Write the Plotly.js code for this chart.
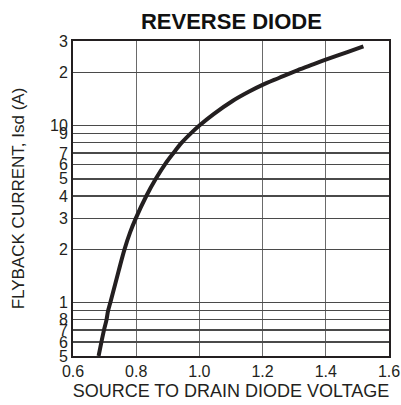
<!DOCTYPE html>
<html>
<head>
<meta charset="utf-8">
<script src="https://cdn.plot.ly/plotly-3.0.1.min.js"></script>
<style>html,body{margin:0;padding:0;background:#fff;}#chart{width:401px;height:405px;}</style>
</head>
<body>
<div id="chart"></div>
<script>
// Curve (V, A)
const voltage = [0.681, 0.690, 0.698, 0.706, 0.711, 0.718, 0.744, 0.763, 0.781, 0.799, 0.832, 0.862, 0.890, 0.918, 0.944, 0.972, 1.000, 1.045, 1.106, 1.156, 1.198, 1.253, 1.310, 1.362, 1.402, 1.466, 1.519];
const current = [0.5, 0.6, 0.7, 0.8, 0.9, 1.0, 1.5, 2.0, 2.5, 3.0, 4.0, 5.0, 6.0, 7.0, 8.0, 9.0, 10.0, 11.6, 13.8, 15.5, 16.9, 18.6, 20.5, 22.2, 23.6, 25.9, 28.0];

const yTickVals = [0.5, 0.6, 0.7, 0.8, 0.9, 1, 2, 3, 4, 5, 6, 7, 8, 9, 10, 20, 30];
const yTickText = ["5", "6", "7", "8", "", "1", "2", "3", "4", "5", "6", "7", "", "9", "10", "2", "3"];
const xTickVals = [0.6, 0.8, 1.0, 1.2, 1.4, 1.6];
const xTickText = ["0.6", "0.8", "1.0", "1.2", "1.4", "1.6"];

const font = "Liberation Sans, Arial, Helvetica, sans-serif";

const trace = {
  x: voltage, y: current, type: "scatter", mode: "lines",
  line: {color: "#231f20", width: 4, shape: "spline", smoothing: 1},
  hoverinfo: "skip", showlegend: false
};

const layout = {
  width: 401, height: 405,
  margin: {l: 73, r: 12, t: 41, b: 49},
  paper_bgcolor: "#fff", plot_bgcolor: "#fff",
  font: {family: font, color: "#231f20", size: 15},
  title: {text: "<b>REVERSE DIODE</b>", font: {family: font, size: 22, color: "#111"}, x: 0.577, xanchor: "center", y: 0.948, yanchor: "middle"},
  xaxis: {
    range: [0.6, 1.6], tickmode: "array", tickvals: xTickVals, ticktext: xTickText,
    showgrid: true, gridcolor: "#6a6a6a", gridwidth: 1.3,
    showline: true, linecolor: "#231f20", linewidth: 2, mirror: true,
    ticks: "", zeroline: false,
    tickfont: {size: 16, family: font, color: "#231f20"},
    title: {text: "SOURCE TO DRAIN DIODE VOLTAGE", font: {size: 18, family: font, color: "#231f20"}, standoff: 5}
  },
  yaxis: {
    type: "log", range: [Math.log10(0.5), Math.log10(30)],
    tickmode: "array", tickvals: yTickVals, ticktext: yTickText,
    showgrid: true, gridcolor: "#4a4a4a", gridwidth: 1.3,
    showline: true, linecolor: "#231f20", linewidth: 2, mirror: true,
    ticks: "", zeroline: false,
    tickfont: {size: 16, family: font, color: "#231f20"},
    title: {text: "FLYBACK CURRENT, Isd (A)", font: {size: 17, family: font, color: "#231f20"}, standoff: 21}
  }
};

Plotly.newPlot("chart", [trace], layout, {displayModeBar: false, staticPlot: true});
</script>
</body>
</html>
